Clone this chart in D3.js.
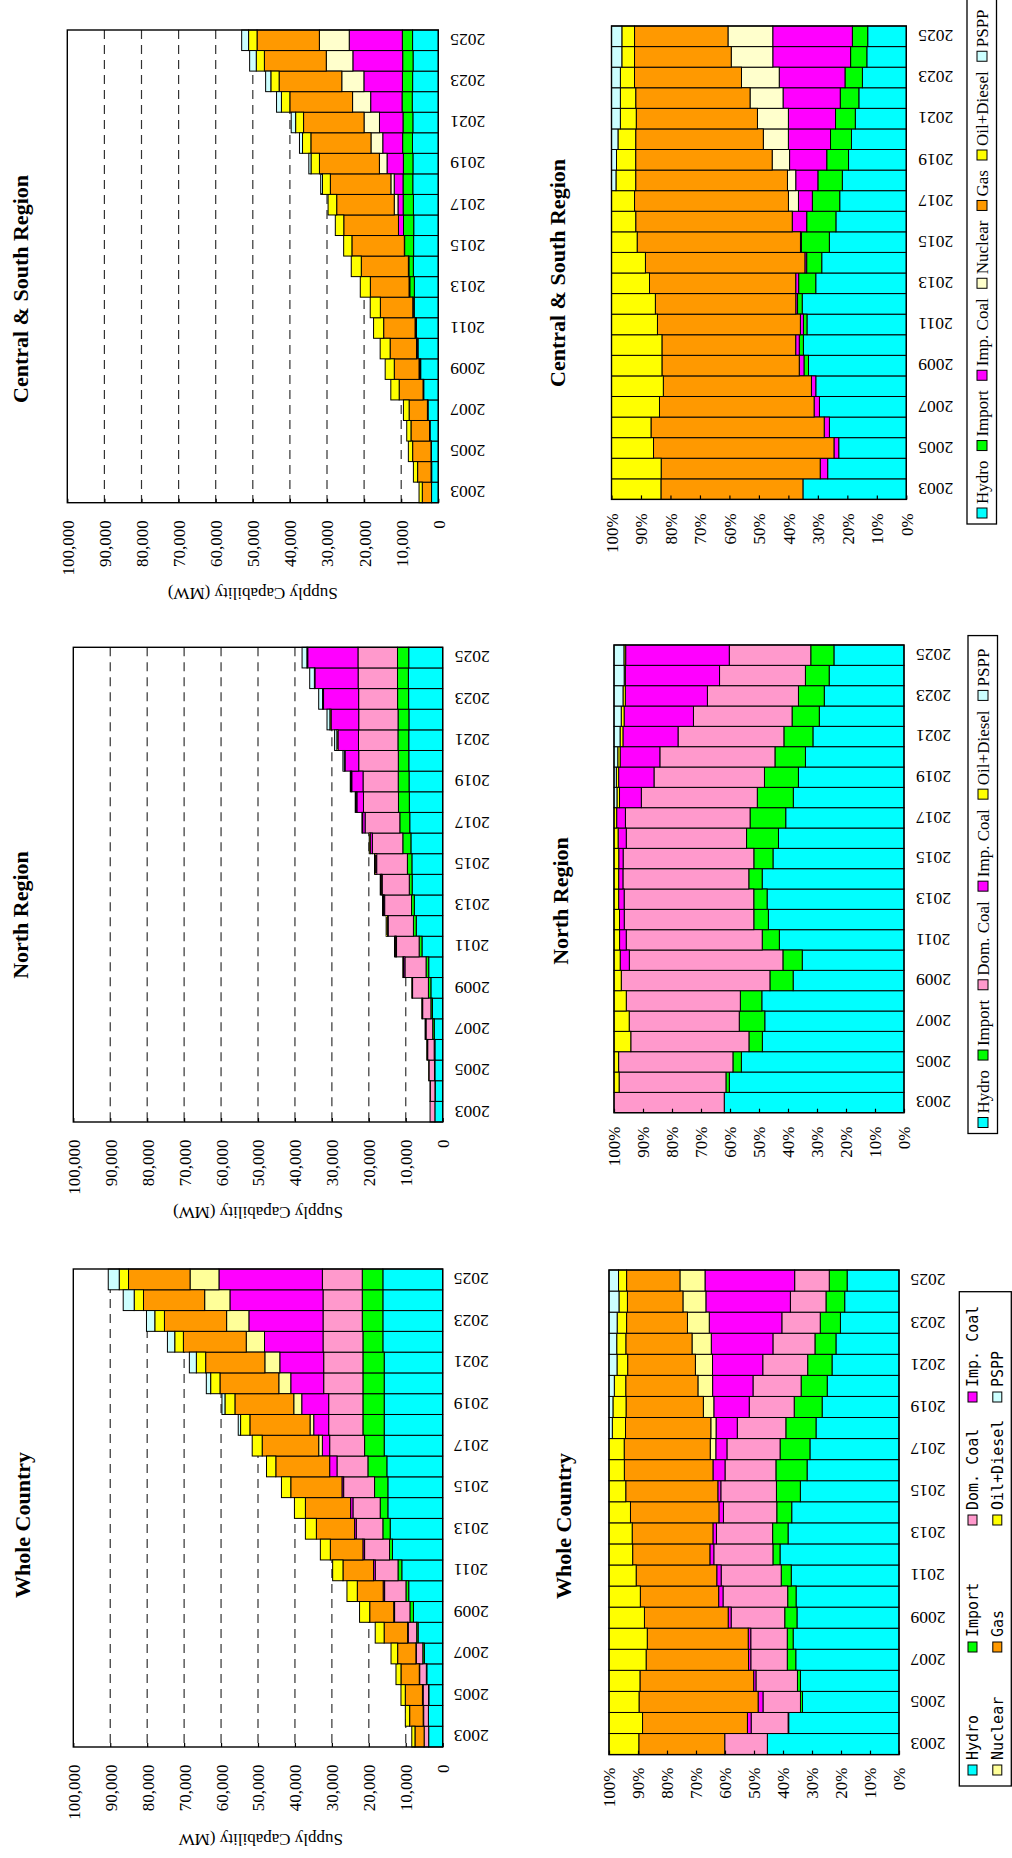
<!DOCTYPE html>
<html>
<head>
<meta charset="utf-8">
<script src="https://cdn.jsdelivr.net/npm/d3@7"></script>
<style>
  body { margin: 0; background: #fff; }
  svg { display: block; }
</style>
</head>
<body>
<svg id="chart" width="1012" height="1858"></svg>
<script>
const years = ["2003", "2004", "2005", "2006", "2007", "2008", "2009", "2010", "2011", "2012", "2013", "2014",
  "2015", "2016", "2017", "2018", "2019", "2020", "2021", "2022", "2023", "2024", "2025"];
const yearTicks = ["2003", "2005", "2007", "2009", "2011", "2013", "2015", "2017", "2019", "2021", "2023", "2025"];
const keys = ["Hydro", "Import", "Dom. Coal", "Imp. Coal", "Nuclear", "Gas", "Oil+Diesel", "PSPP"];
const mwTicks = [0, 10000, 20000, 30000, 40000, 50000, 60000, 70000, 80000, 90000, 100000];
const gridTicks = [10000, 20000, 30000, 40000, 50000, 60000, 70000, 80000, 90000];
const pctTicks = [0, 0.1, 0.2, 0.3, 0.4, 0.5, 0.6, 0.7, 0.8, 0.9, 1];

// Whole Country (MW)
const wholeHydro = [3800, 3850, 3760, 4300, 4980, 6670, 7920, 9200, 11070, 13590, 14220, 14850, 14850, 15120, 15840, 15840, 15840, 15840, 15840, 16200, 16200, 16200, 16200];
const wholeImport = [0, 20, 80, 130, 410, 370, 950, 750, 1030, 810, 1980, 2070, 3600, 5130, 5310, 5760, 5760, 5760, 5760, 5400, 5580, 5580, 5580];
const wholeDomCoal = [1230, 1290, 1460, 1810, 1760, 2300, 4160, 5780, 6170, 6750, 7200, 7380, 8370, 8370, 9450, 9270, 9270, 10620, 10620, 10800, 10620, 10620, 10800];
const wholeImpCoal = [0, 130, 190, 100, 110, 160, 230, 390, 450, 450, 450, 630, 450, 1980, 1980, 4050, 7290, 8910, 11880, 15840, 20070, 25200, 27990];
const wholeNuclear = [0, 0, 0, 0, 0, 0, 0, 0, 0, 0, 0, 0, 0, 0, 990, 1000, 2160, 3240, 4050, 4950, 6030, 6840, 7830];
const wholeGas = [2480, 3660, 4640, 4960, 4940, 6360, 6500, 7000, 8280, 8820, 10350, 12240, 13860, 14580, 15300, 16280, 15930, 15930, 16020, 17010, 16830, 16560, 16650];
const wholeOil = [860, 1170, 1170, 1350, 1790, 2410, 2750, 2800, 2790, 2700, 2970, 2970, 2520, 2520, 2700, 2520, 2700, 2520, 2520, 2340, 2610, 2520, 2520];
const wholePSPP = [0, 0, 0, 0, 0, 0, 0, 0, 0, 0, 0, 0, 0, 0, 0, 630, 810, 1170, 1890, 1980, 2250, 2970, 2970];

// North Region (MW)
const northHydro = [2120, 2060, 2120, 2110, 2290, 2780, 3200, 3790, 5610, 7160, 7690, 8270, 8340, 8610, 8920, 9040, 9110, 9180, 9190, 9150, 9230, 9290, 9200];
const northImport = [0, 40, 110, 200, 420, 420, 670, 720, 770, 770, 750, 780, 1220, 2190, 2690, 2940, 2930, 2840, 2930, 2940, 2990, 2950, 3040];
const northDomCoal = [1300, 1260, 1490, 1760, 1810, 2230, 4290, 5720, 6120, 6840, 7280, 7340, 8320, 8250, 9400, 9470, 9530, 10720, 10680, 10650, 10540, 10660, 10700];
const northImpCoal = [0, 0, 0, 0, 0, 0, 0, 340, 300, 250, 310, 250, 280, 560, 660, 1780, 3050, 3700, 5560, 7490, 9500, 11700, 13600];
const northOil = [0, 60, 60, 250, 250, 240, 210, 230, 250, 290, 260, 270, 300, 280, 200, 210, 200, 220, 290, 310, 270, 140, 230];
const northPSPP = [0, 0, 0, 0, 0, 0, 0, 0, 0, 0, 0, 0, 0, 0, 0, 240, 200, 350, 610, 780, 1040, 1260, 1300];

// Central & South Region (MW)
const csHydro = [1820, 1790, 1850, 2220, 2770, 3930, 4750, 5470, 5880, 6480, 6460, 6730, 6660, 6630, 6710, 6880, 6840, 6960, 6860, 7020, 6930, 6810, 6940];
const csImport = [0, 0, 0, 0, 0, 0, 220, 220, 210, 290, 1220, 1200, 2420, 2750, 2760, 2630, 2580, 2660, 2660, 2750, 2750, 2800, 2760];
const csImpCoal = [0, 170, 130, 150, 170, 190, 230, 190, 180, 110, 210, 140, 80, 1360, 1400, 2380, 4400, 5350, 6340, 8460, 10380, 13420, 14310];
const csNuclear = [0, 0, 0, 0, 0, 0, 0, 0, 0, 0, 0, 0, 0, 0, 1010, 890, 2060, 3180, 4160, 4880, 5960, 7170, 8050];
const csGas = [2500, 3620, 4940, 5000, 4930, 6430, 6670, 7110, 8460, 8740, 10430, 12690, 14130, 14740, 15510, 16320, 16160, 16200, 16300, 16910, 16890, 16680, 16800];
const csOil = [870, 1130, 1150, 1140, 1530, 2250, 2450, 2680, 2720, 2730, 2710, 2700, 2220, 2280, 2320, 2120, 2270, 2250, 2140, 2270, 2230, 2190, 2280];
const csPSPP = [0, 0, 0, 0, 0, 0, 0, 0, 0, 0, 0, 0, 0, 0, 0, 480, 590, 820, 1190, 1310, 1400, 1780, 1860];

const baseColor = {
  "Hydro": "#00ffff", "Import": "#00ff00", "Dom. Coal": "#ff99cc", "Imp. Coal": "#ff00ff",
  "Nuclear": "#ffff99", "Gas": "#ff9900", "Oil+Diesel": "#ffff00", "PSPP": "#ccffff"
};

function buildRows(series) {
  return years.map((year, i) => {
    const row = { year };
    keys.forEach(k => { row[k] = series[k] ? series[k][i] : 0; });
    return row;
  });
}

const wholeRows = buildRows({
  "Hydro": wholeHydro, "Import": wholeImport, "Dom. Coal": wholeDomCoal, "Imp. Coal": wholeImpCoal,
  "Nuclear": wholeNuclear, "Gas": wholeGas, "Oil+Diesel": wholeOil, "PSPP": wholePSPP
});
const northRows = buildRows({
  "Hydro": northHydro, "Import": northImport, "Dom. Coal": northDomCoal, "Imp. Coal": northImpCoal,
  "Oil+Diesel": northOil, "PSPP": northPSPP
});
const csRows = buildRows({
  "Hydro": csHydro, "Import": csImport, "Imp. Coal": csImpCoal, "Nuclear": csNuclear,
  "Gas": csGas, "Oil+Diesel": csOil, "PSPP": csPSPP
});

const serif = "'Liberation Serif', 'Times New Roman', serif";
const svg = d3.select("#chart");
svg.append("rect").attr("width", 1012).attr("height", 1858).attr("fill", "#fff");

// the page is the original landscape sheet turned a quarter turn anticlockwise:
// bars run right -> left, years run bottom -> top
function drawChart(cfg) {
  const g = svg.append("g");
  const pct = cfg.pct;

  const x = d3.scaleLinear()
    .domain(pct ? [0, 1] : [0, 100000])
    .range([cfg.right, cfg.left]);

  const y = d3.scaleBand()
    .domain(years)
    .range([cfg.bottom, cfg.top])
    .padding(0);

  const stack = d3.stack().keys(keys);
  if (pct) stack.offset(d3.stackOffsetExpand);
  const layers = stack(cfg.rows);

  if (!pct) {
    g.append("g")
      .selectAll("line")
      .data(gridTicks)
      .join("line")
      .attr("x1", d => x(d))
      .attr("x2", d => x(d))
      .attr("y1", cfg.top)
      .attr("y2", cfg.bottom)
      .attr("stroke", "#333")
      .attr("stroke-width", 1.2)
      .attr("stroke-dasharray", "9,6");
  }

  g.append("g")
    .selectAll("g")
    .data(layers)
    .join("g")
    .attr("fill", d => (d.key === "Nuclear" ? cfg.nuclear : baseColor[d.key]))
    .selectAll("rect")
    .data(d => d.filter(p => p[1] - p[0] > 0))
    .join("rect")
    .attr("x", d => x(d[1]))
    .attr("width", d => x(d[0]) - x(d[1]))
    .attr("y", d => y(d.data.year))
    .attr("height", y.bandwidth())
    .attr("stroke", "#000")
    .attr("stroke-width", 1);

  // frame
  g.append("rect")
    .attr("x", cfg.left)
    .attr("y", cfg.top)
    .attr("width", cfg.right - cfg.left)
    .attr("height", cfg.bottom - cfg.top)
    .attr("fill", "none")
    .attr("stroke", "#000")
    .attr("stroke-width", 1.4);

  // value axis (below the frame), inside ticks, labels read bottom -> top
  const valueAxis = pct
    ? d3.axisBottom(x).tickValues(pctTicks).tickFormat(d3.format(".0%"))
    : d3.axisBottom(x).tickValues(mwTicks).tickFormat(d3.format(","));
  valueAxis.tickSizeInner(-4).tickSizeOuter(0);

  g.append("g")
    .attr("transform", `translate(0,${cfg.bottom})`)
    .call(valueAxis)
    .call(a => a.select(".domain").remove())
    .call(a => a.selectAll("line").attr("stroke", "#000").attr("stroke-width", 1.2))
    .call(a => a.selectAll("text")
      .attr("x", 0)
      .attr("y", 0)
      .attr("dy", "0.35em")
      .attr("text-anchor", "end")
      .attr("transform", `translate(0,${cfg.tickGap}) rotate(-90)`)
      .attr("fill", "#000")
      .style("font-family", serif)
      .style("font-size", "17px"));

  // year axis (right of the frame), labels upside down
  g.append("g")
    .attr("transform", `translate(${cfg.right},0)`)
    .call(d3.axisRight(y).tickValues(yearTicks).tickSize(0))
    .call(a => a.select(".domain").remove())
    .call(a => a.selectAll("text")
      .attr("x", 0)
      .attr("dy", "0.35em")
      .attr("text-anchor", "end")
      .attr("transform", `translate(${cfg.yearGap},0) rotate(180)`)
      .attr("fill", "#000")
      .style("font-family", serif)
      .style("font-size", "17.5px"));

  // chart title
  g.append("text")
    .attr("transform", `translate(${cfg.titleX},${cfg.titleY}) rotate(-90)`)
    .attr("text-anchor", "middle")
    .attr("dy", "0.35em")
    .style("font-family", serif)
    .style("font-size", "22px")
    .style("font-weight", "bold")
    .text(cfg.title);

  if (cfg.yTitle) {
    g.append("text")
      .attr("transform", `translate(${(cfg.left + cfg.right) / 2 + 85},${cfg.yTitleY}) rotate(180)`)
      .attr("text-anchor", "start")
      .attr("dy", "0.35em")
      .style("font-family", serif)
      .style("font-size", "17px")
      .text(cfg.yTitle);
  }
}

const charts = [
  { rows: csRows, pct: false, title: "Central & South Region", left: 67.3, right: 438.3, top: 30, bottom: 502.7,
    tickGap: 17.5, yearGap: 12, titleX: 20, titleY: 289, yTitle: "Supply Capability (MW)", yTitleY: 594, nuclear: "#ffffcc" },
  { rows: northRows, pct: false, title: "North Region", left: 73.3, right: 442.7, top: 647.3, bottom: 1122,
    tickGap: 17.5, yearGap: 12, titleX: 20, titleY: 915, yTitle: "Supply Capability (MW)", yTitleY: 1213, nuclear: "#ffffcc" },
  { rows: wholeRows, pct: false, title: "Whole Country", left: 73.3, right: 442.7, top: 1269, bottom: 1747,
    tickGap: 17.5, yearGap: 11, titleX: 22, titleY: 1525, yTitle: "Supply Capability (MW", yTitleY: 1840, nuclear: "#ffff99" },
  { rows: csRows, pct: true, title: "Central & South Region", left: 611.5, right: 906.3, top: 26, bottom: 499.4,
    tickGap: 14, yearGap: 12, titleX: 557.5, titleY: 273, nuclear: "#ffffcc" },
  { rows: northRows, pct: true, title: "North Region", left: 614, right: 904, top: 645, bottom: 1112.7,
    tickGap: 14, yearGap: 12, titleX: 560, titleY: 901, nuclear: "#ffffcc" },
  { rows: wholeRows, pct: true, title: "Whole Country", left: 609, right: 899, top: 1270, bottom: 1754.6,
    tickGap: 13, yearGap: 11.5, titleX: 563, titleY: 1526, nuclear: "#ffff99" }
];
charts.forEach(drawChart);

// single-line legends (serif), reading bottom -> top
function lineLegend(items, cx, startY, nuclear) {
  const g = svg.append("g");
  const box = g.append("rect").attr("fill", "#fff").attr("stroke", "#000").attr("stroke-width", 1.3);
  let cursor = startY;
  items.forEach(k => {
    g.append("rect")
      .attr("x", cx - 5)
      .attr("y", cursor - 10)
      .attr("width", 10)
      .attr("height", 10)
      .attr("fill", k === "Nuclear" ? nuclear : baseColor[k])
      .attr("stroke", "#000");
    const t = g.append("text")
      .attr("transform", `translate(${cx},${cursor - 14}) rotate(-90)`)
      .attr("dy", "0.35em")
      .style("font-family", serif)
      .style("font-size", "17px")
      .text(k);
    const len = t.node().getComputedTextLength();
    cursor = cursor - 14 - len - 10;
  });
  box.attr("x", cx - 15).attr("width", 29.5)
    .attr("y", cursor - 3).attr("height", startY + 6 - (cursor - 3));
}
lineLegend(["Hydro", "Import", "Imp. Coal", "Nuclear", "Gas", "Oil+Diesel", "PSPP"], 982, 518, "#ffffcc");
lineLegend(["Hydro", "Import", "Dom. Coal", "Imp. Coal", "Oil+Diesel", "PSPP"], 983, 1127.5, "#ffffcc");

// two-column legend of the whole-country share chart
(function () {
  const g = svg.append("g");
  const mono = "'DejaVu Sans Mono', monospace";
  g.append("rect")
    .attr("x", 959.3).attr("y", 1291.7).attr("width", 52).attr("height", 494.3)
    .attr("fill", "#fff").attr("stroke", "#000").attr("stroke-width", 1.3);
  const cols = [
    { cx: 972.5, items: ["Hydro", "Import", "Dom. Coal", "Imp. Coal"] },
    { cx: 997.3, items: ["Nuclear", "Gas", "Oil+Diesel", "PSPP"] }
  ];
  const rowY = [1770, 1647, 1520, 1397];
  cols.forEach(c => {
    c.items.forEach((k, i) => {
      g.append("rect")
        .attr("x", c.cx - 4.5).attr("y", rowY[i] - 5)
        .attr("width", 9).attr("height", 10)
        .attr("fill", k === "Nuclear" ? "#ffff99" : baseColor[k])
        .attr("stroke", "#000");
      g.append("text")
        .attr("transform", `translate(${c.cx},${rowY[i] - 10}) rotate(-90)`)
        .attr("dy", "0.37em")
        .style("font-family", mono)
        .style("font-size", "15px")
        .text(k);
    });
  });
})();
</script>
</body>
</html>
